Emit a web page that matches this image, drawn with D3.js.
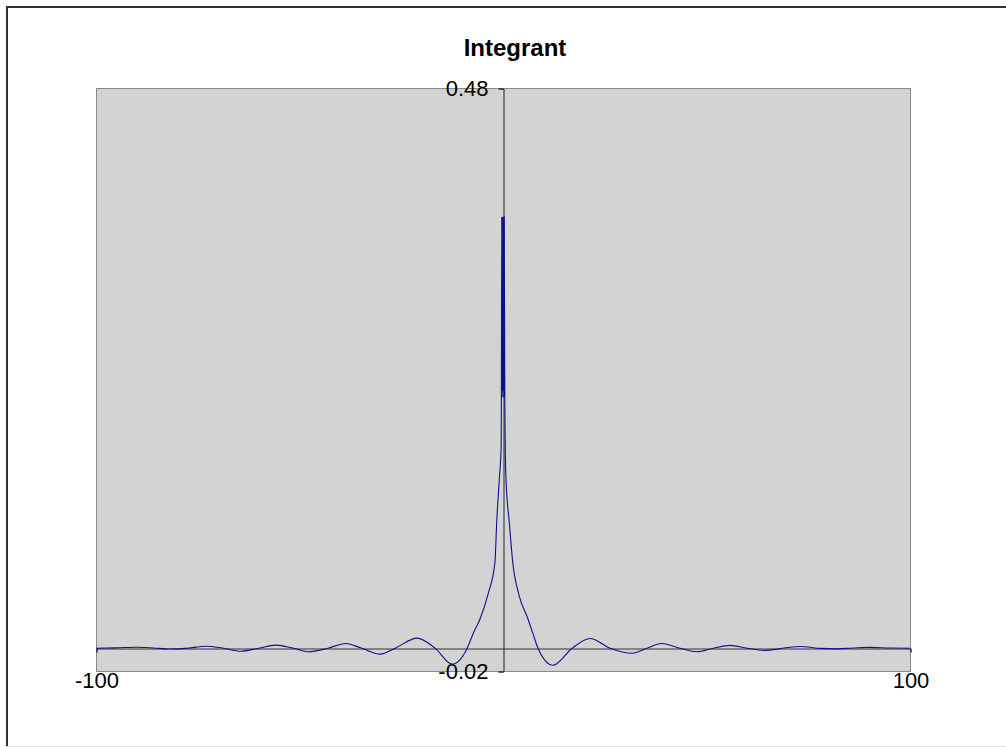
<!DOCTYPE html>
<html>
<head>
<meta charset="utf-8">
<script src="https://cdn.jsdelivr.net/npm/d3@7"></script>
<style>
  html, body { margin: 0; padding: 0; background: #ffffff; }
  svg { display: block; }
  text { font-family: "Liberation Sans", Arial, sans-serif; fill: #000; }
</style>
</head>
<body>
<svg id="chart" width="1006" height="747"></svg>
<script>
// ---- Data ----
const chartTitle = "Integrant";
const xDomain = [-100, 100];
const yDomain = [-0.02, 0.48];
const xTickValues = [-100, 100];
const yTickValues = [-0.02, 0.48];

const xValues = [
  -100, -95, -90, -86, -82, -78, -73, -69, -64.4, -60, -55.8, -51.5, -47.7, -43,
  -38.6, -35, -30.2, -26.5, -21.1, -16.7, -12.5, -8.8, -7.4, -5.65, -3.7, -1.97, -1.55,
  -0.91, -0.45, -0.4, -0.3, -0.2, -0.1, 0, 0.1, 0.2, 0.3, 0.45, 0.55, 0.74, 1.55, 2.38, 3.9, 6.14, 7.4, 8.6,
  12.3, 17, 21.4, 26.3, 31.7, 35.4, 39, 43.5, 47.7, 51.7, 55.8, 60, 64.4, 69,
  73, 78, 82, 86, 90, 95, 100
];
const yValues = [
  0.0000, 0.0003, 0.0008, 0.0002, -0.0007, -0.0002, 0.0017, 0.0002, -0.0026, 0.0000, 0.0026, 0.0000, -0.0031, 0.0000,
  0.0040, 0.0003, -0.0051, 0.0000, 0.0086, 0.0000, -0.0137, 0.0000, 0.0120, 0.0250, 0.0460, 0.0740, 0.1080,
  0.1450, 0.1730, 0.2100, 0.3700, 0.2150, 0.3700, 0.2200, 0.3700, 0.2150, 0.3700, 0.2100, 0.1730, 0.1450, 0.1080, 0.0740, 0.0460, 0.0250, 0.0120, 0.0000,
  -0.0146, 0.0000, 0.0083, 0.0000, -0.0043, 0.0000, 0.0040, 0.0000, -0.0030, 0.0000, 0.0024, 0.0000, -0.0020, 0.0001,
  0.0015, -0.0002, -0.0006, 0.0001, 0.0007, 0.0002, 0.0000
];

// ---- Drawing ----
const svg = d3.select("#chart");
const hyphen = f => (d => f(d).replace("\u2212", "-"));

// outer chart frame (left/top dark, bottom faint, right outside the picture)
svg.append("line").attr("x1", 7).attr("x2", 7).attr("y1", 6).attr("y2", 747)
  .attr("stroke", "#333333").attr("stroke-width", 2);
svg.append("line").attr("x1", 6).attr("x2", 1006).attr("y1", 7).attr("y2", 7)
  .attr("stroke", "#333333").attr("stroke-width", 2);
svg.append("line").attr("x1", 6).attr("x2", 1006).attr("y1", 746.5).attr("y2", 746.5)
  .attr("stroke", "#dddddd").attr("stroke-width", 1);

const plot = { left: 96, right: 910, top: 88.5, bottom: 671.5 };

const x = d3.scaleLinear().domain(xDomain).range([plot.left, plot.right]);
const y = d3.scaleLinear().domain(yDomain).range([plot.bottom, plot.top]);

// plot area
svg.append("rect")
  .attr("x", plot.left + 0.5).attr("y", plot.top)
  .attr("width", plot.right - plot.left).attr("height", plot.bottom - plot.top)
  .attr("fill", "#d3d3d3")
  .attr("stroke", "#8a8a8a").attr("stroke-width", 1);

// title
svg.append("text")
  .attr("x", 515).attr("y", 56)
  .attr("text-anchor", "middle")
  .style("font-size", "24px").style("font-weight", "bold")
  .text(chartTitle);

// x axis (crossing at y = 0)
const xAxis = d3.axisBottom(x)
  .tickValues(xTickValues)
  .tickSize(4)
  .tickPadding(20)
  .tickFormat(hyphen(d3.format("d")));
const gx = svg.append("g")
  .attr("transform", `translate(0.5,${Math.round(y(0)) + 0.5})`)
  .call(xAxis);
gx.select(".domain").attr("stroke", "#333333");
gx.selectAll(".tick line").attr("stroke", "#333333");
gx.selectAll(".tick text").style("font-size", "22px").attr("fill", "#000")
  .style("font-family", "'Liberation Sans', Arial, sans-serif");

// y axis (crossing at x = 0)
const yAxis = d3.axisLeft(y)
  .tickValues(yTickValues)
  .tickSize(5)
  .tickPadding(10)
  .tickFormat(hyphen(d3.format(".2f")));
const gy = svg.append("g")
  .attr("transform", `translate(${Math.round(x(0)) + 0.5},0)`)
  .call(yAxis);
gy.select(".domain").attr("stroke", "#222222");
gy.selectAll(".tick line").attr("stroke", "#333333");
gy.selectAll(".tick text").style("font-size", "22px").attr("fill", "#000")
  .style("font-family", "'Liberation Sans', Arial, sans-serif");

// series line
const pts = xValues.map((v, i) => [v, yValues[i]]);
const line = d3.line()
  .x(d => x(d[0]))
  .y(d => y(d[1]))
  .curve(d3.curveMonotoneX);
svg.append("path")
  .datum(pts)
  .attr("fill", "none")
  .attr("stroke", "#10108a")
  .attr("stroke-width", 1.1)
  .attr("d", line);
</script>
</body>
</html>
